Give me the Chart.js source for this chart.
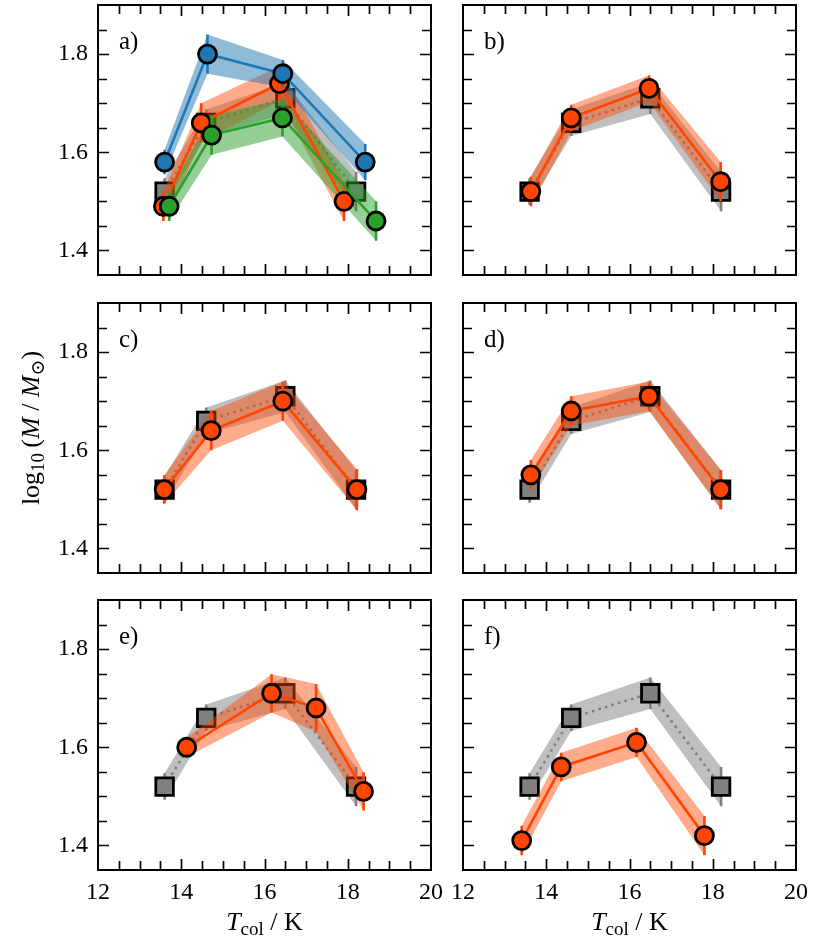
<!DOCTYPE html>
<html>
<head>
<meta charset="utf-8">
<script src="https://cdn.jsdelivr.net/npm/chart.js@4.4.1/dist/chart.umd.min.js"></script>
<style>
  html, body { margin: 0; padding: 0; background: #fff; }
  #fig { position: relative; width: 831px; height: 941px; overflow: hidden; }
  #fig canvas { position: absolute; }
</style>
</head>
<body>
<div id="fig"></div>
<script>
// axis limits and ticks (shared by all six panels)
const xRange = [12, 20];
const yRange = [1.35, 1.9];
const xMajor = [12, 14, 16, 18, 20];
const yMajor = [1.4, 1.6, 1.8];
const xMinorStep = 0.5;
const yMinorStep = 0.05;

// grey reference run, repeated in every panel
const refT = [13.6, 14.6, 16.5, 18.2];
const refM = [1.52, 1.66, 1.71, 1.52];
const refE = [0.027, 0.027, 0.032, 0.04];

// panel a)
const aOrangeT = [13.57, 14.48, 16.36, 17.91];
const aOrangeM = [1.49, 1.66, 1.74, 1.50];
const aOrangeE = [0.03, 0.04, 0.035, 0.04];
const aGreenT = [13.71, 14.73, 16.43, 18.68];
const aGreenM = [1.49, 1.635, 1.67, 1.46];
const aGreenE = [0.03, 0.04, 0.038, 0.04];
const aBlueT = [13.6, 14.63, 16.44, 18.42];
const aBlueM = [1.58, 1.80, 1.76, 1.58];
const aBlueE = [0.025, 0.04, 0.028, 0.037];

// panels b) - f), one orange run each
const bT = [13.63, 14.6, 16.47, 18.19];
const bM = [1.52, 1.67, 1.73, 1.54];
const bE = [0.03, 0.027, 0.027, 0.04];
const cT = [13.59, 14.72, 16.44, 18.22];
const cM = [1.52, 1.64, 1.70, 1.52];
const cE = [0.029, 0.04, 0.04, 0.042];
const dT = [13.63, 14.6, 16.47, 18.19];
const dM = [1.55, 1.68, 1.71, 1.52];
const dE = [0.03, 0.03, 0.03, 0.04];
const eT = [14.13, 16.17, 17.24, 18.38];
const eM = [1.60, 1.71, 1.68, 1.51];
const eE = [0.02, 0.039, 0.049, 0.039];
const fT = [13.41, 14.36, 16.17, 17.8];
const fM = [1.41, 1.56, 1.61, 1.42];
const fE = [0.03, 0.029, 0.03, 0.04];

const COL = { grey: "#808080", orange: "#ff4500", green: "#2ca02c", blue: "#1f77b4" };
const BAND = {
  grey: "rgba(128,128,128,0.5)",
  orange: "rgba(255,69,0,0.45)",
  green: "rgba(44,160,44,0.5)",
  blue: "rgba(31,119,180,0.5)"
};
const FONT = "'Liberation Serif', 'DejaVu Serif', serif";

const ref = { T: refT, M: refM, E: refE, c: "grey" };
const panels = [
  { tag: "a)", col: 0, row: 0, runs: [ref,
      { T: aOrangeT, M: aOrangeM, E: aOrangeE, c: "orange" },
      { T: aGreenT, M: aGreenM, E: aGreenE, c: "green" },
      { T: aBlueT, M: aBlueM, E: aBlueE, c: "blue" }] },
  { tag: "b)", col: 1, row: 0, runs: [ref, { T: bT, M: bM, E: bE, c: "orange" }] },
  { tag: "c)", col: 0, row: 1, runs: [ref, { T: cT, M: cM, E: cE, c: "orange" }], ylabel: true },
  { tag: "d)", col: 1, row: 1, runs: [ref, { T: dT, M: dM, E: dE, c: "orange" }] },
  { tag: "e)", col: 0, row: 2, runs: [ref, { T: eT, M: eM, E: eE, c: "orange" }], xlabel: true },
  { tag: "f)", col: 1, row: 2, runs: [ref, { T: fT, M: fM, E: fE, c: "orange" }], xlabel: true }
];

// canvas boxes; padding puts every plot frame at the same size (333 x 270).
// left canvases run under the right ones so the "20" label is not cut off
const colBox = [
  { x: 0, w: 460, padL: 0, padR: 29, yW: 98 },
  { x: 440, w: 391, padL: 23, padR: 35, yW: 0 }
];
const rowBox = [
  { y: 0, h: 290, padT: 5, padB: 15, xH: 0 },
  { y: 290, h: 300, padT: 13, padB: 17, xH: 0 },
  { y: 590, h: 351, padT: 10, padB: 0, xH: 71 }
];

function pts(T, f) { return T.map((t, i) => ({ x: t, y: f(i) })); }

function buildDatasets(runs) {
  // grey reference sits under everything; then all bands; then bars, lines and markers
  const ds = [];
  let order = 1000;
  const push = (d) => { d.order = order--; ds.push(d); return ds.length - 1; };
  const bandOf = (r) => {
    const up = push({ data: pts(r.T, i => r.M[i] + r.E[i]), borderColor: "transparent", borderWidth: 0, pointRadius: 0 });
    push({ data: pts(r.T, i => r.M[i] - r.E[i]), borderColor: "transparent", borderWidth: 0, pointRadius: 0,
           fill: { target: up }, backgroundColor: BAND[r.c] });
  };
  const marksOf = (r) => {
    const bars = [];
    r.T.forEach((t, i) => bars.push({ x: t, y: r.M[i] - r.E[i] }, { x: t, y: r.M[i] + r.E[i] }, { x: t, y: null }));
    push({ data: bars, borderColor: COL[r.c], borderWidth: 2.6, pointRadius: 0, spanGaps: false });
    const sq = r.c === "grey";
    push({
      data: pts(r.T, i => r.M[i]),
      borderColor: COL[r.c], borderWidth: 2.6, borderDash: sq ? [2.6, 4.2] : [],
      pointStyle: sq ? "rect" : "circle", pointRadius: sq ? 12.4 : 9,
      pointBackgroundColor: COL[r.c], pointBorderColor: "#000", pointBorderWidth: 2.8
    });
  };
  bandOf(runs[0]); marksOf(runs[0]);
  runs.slice(1).forEach(bandOf);
  runs.slice(1).forEach(marksOf);
  return ds;
}

// text with italic / subscript pieces, centred on (cx, cy)
function richText(ctx, parts, cx, cy, rot) {
  const fontOf = p => (p.i ? "italic " : "") + (p.sub ? 19 : 26) + "px " + FONT;
  ctx.save();
  ctx.translate(cx, cy);
  ctx.rotate(rot);
  let w = 0;
  parts.forEach(p => { ctx.font = fontOf(p); w += ctx.measureText(p.t).width; });
  let x = -w / 2;
  ctx.fillStyle = "#000";
  ctx.textBaseline = "alphabetic";
  parts.forEach(p => {
    ctx.font = fontOf(p);
    ctx.fillText(p.t, x, 8 + (p.sub ? 5 : 0));
    x += ctx.measureText(p.t).width;
  });
  ctx.restore();
}

const yTitle = [{ t: "log" }, { t: "10", sub: true }, { t: "\u2009(" }, { t: "M", i: true }, { t: " / " },
                { t: "M", i: true }, { t: "\u2299", sub: true }, { t: ")" }];
const xTitle = [{ t: "T", i: true }, { t: "col", sub: true }, { t: " / K" }];

// frame, inward ticks on all four sides, panel tag and axis titles
const framePlugin = {
  id: "frame",
  afterDatasetsDraw(chart, args, opts) {
    const { ctx, chartArea: a, scales: { x, y } } = chart;
    ctx.save();
    ctx.strokeStyle = "#000";
    ctx.lineWidth = 1.7;
    ctx.beginPath();
    for (let v = xRange[0] + xMinorStep; v < xRange[1] - 1e-9; v += xMinorStep) {
      const px = Math.round(x.getPixelForValue(v)) + 0.5;
      const len = xMajor.some(m => Math.abs(m - v) < 1e-9) ? 11 : 9;
      ctx.moveTo(px, a.bottom); ctx.lineTo(px, a.bottom - len);
      ctx.moveTo(px, a.top); ctx.lineTo(px, a.top + len);
    }
    for (let v = yRange[0] + yMinorStep; v < yRange[1] - 1e-9; v += yMinorStep) {
      const py = Math.round(y.getPixelForValue(v)) + 0.5;
      const len = yMajor.some(m => Math.abs(m - v) < 1e-9) ? 11 : 9;
      ctx.moveTo(a.left, py); ctx.lineTo(a.left + len, py);
      ctx.moveTo(a.right, py); ctx.lineTo(a.right - len, py);
    }
    ctx.stroke();
    ctx.lineWidth = 2;
    ctx.strokeRect(a.left, a.top, a.right - a.left, a.bottom - a.top);

    ctx.fillStyle = "#000";
    ctx.font = "25px " + FONT;
    ctx.textBaseline = "middle";
    ctx.textAlign = "left";
    ctx.fillText(opts.tag, a.left + 21, a.top + 37);
    if (opts.ylabel) richText(ctx, yTitle, 31, 138, -Math.PI / 2);
    if (opts.xlabel) richText(ctx, xTitle, (a.left + a.right) / 2, 332, 0);
    ctx.restore();
  }
};

// keep Chart.js from reserving room for tick label overhang
function noOverhang(s) { s.paddingTop = s.paddingBottom = s.paddingLeft = s.paddingRight = 0; }

const fig = document.getElementById("fig");
panels.forEach(p => {
  const cb = colBox[p.col], rb = rowBox[p.row];
  const cv = document.createElement("canvas");
  cv.width = cb.w; cv.height = rb.h;
  cv.style.left = cb.x + "px"; cv.style.top = rb.y + "px";
  cv.style.width = cb.w + "px"; cv.style.height = rb.h + "px";
  fig.appendChild(cv);
  const showX = p.row === 2, showY = p.col === 0;
  new Chart(cv.getContext("2d"), {
    type: "line",
    data: { datasets: buildDatasets(p.runs) },
    options: {
      responsive: false,
      animation: false,
      events: [],
      layout: { autoPadding: false, padding: { left: cb.padL, right: cb.padR, top: rb.padT, bottom: rb.padB } },
      elements: { line: { tension: 0 } },
      plugins: {
        legend: { display: false },
        tooltip: { enabled: false },
        frame: { tag: p.tag, ylabel: !!p.ylabel, xlabel: !!p.xlabel }
      },
      scales: {
        x: {
          type: "linear", min: xRange[0], max: xRange[1],
          afterBuildTicks: s => { s.ticks = xMajor.map(v => ({ value: v })); },
          afterFit: s => { s.height = rb.xH; noOverhang(s); },
          grid: { display: false, drawTicks: false },
          border: { display: false },
          ticks: { display: showX, color: "#000", padding: 8, maxRotation: 0, autoSkip: false,
                   font: { family: FONT, size: 24 } }
        },
        y: {
          type: "linear", min: yRange[0], max: yRange[1],
          afterBuildTicks: s => { s.ticks = yMajor.map(v => ({ value: v })); },
          afterFit: s => { s.width = cb.yW; noOverhang(s); },
          grid: { display: false, drawTicks: false },
          border: { display: false },
          ticks: { display: showY, color: "#000", padding: 10, autoSkip: false,
                   callback: v => v.toFixed(1), font: { family: FONT, size: 24 } }
        }
      }
    },
    plugins: [framePlugin]
  });
});
</script>
</body>
</html>
